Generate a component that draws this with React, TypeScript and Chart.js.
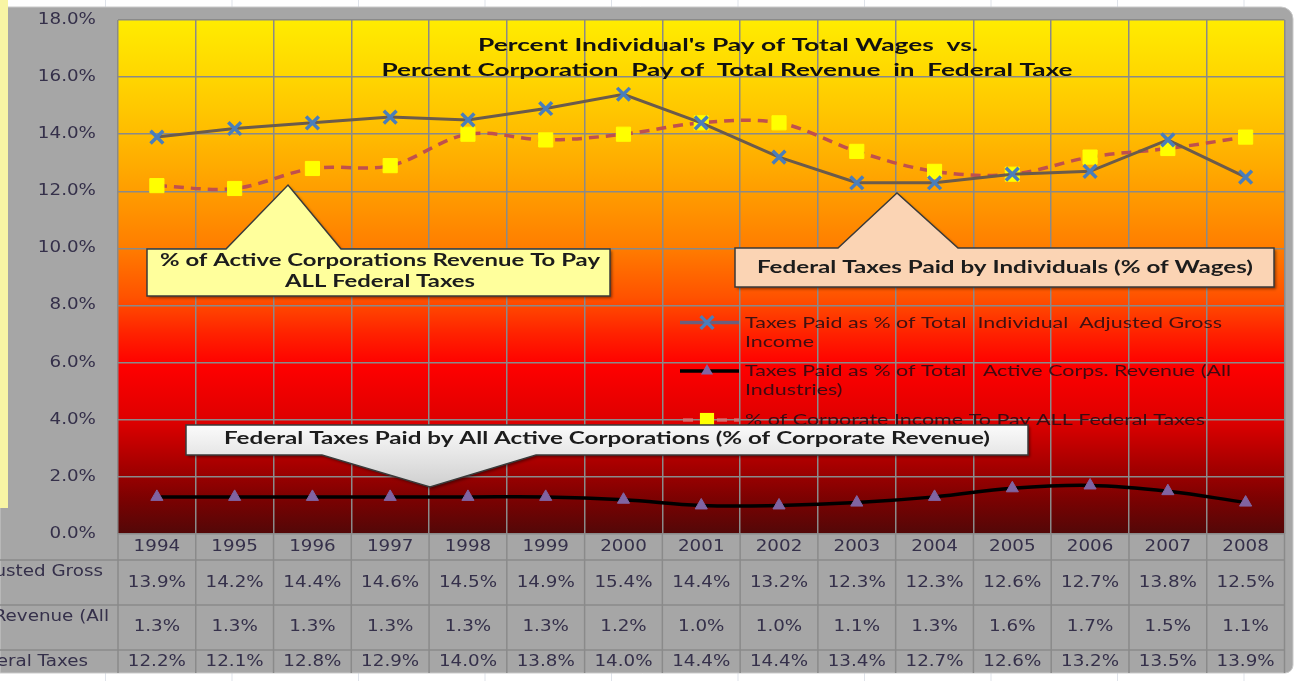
import { useEffect, useRef } from "react";
import { Chart, registerables } from "chart.js";

Chart.register(...registerables);

// ---------- DATA ----------
const years = ["1994", "1995", "1996", "1997", "1998", "1999", "2000", "2001", "2002", "2003", "2004", "2005", "2006", "2007", "2008"];
const individualPct = [13.9, 14.2, 14.4, 14.6, 14.5, 14.9, 15.4, 14.4, 13.2, 12.3, 12.3, 12.6, 12.7, 13.8, 12.5];
const corpRevenuePct = [1.3, 1.3, 1.3, 1.3, 1.3, 1.3, 1.2, 1.0, 1.0, 1.1, 1.3, 1.6, 1.7, 1.5, 1.1];
const corpIncomePct = [12.2, 12.1, 12.8, 12.9, 14.0, 13.8, 14.0, 14.4, 14.4, 13.4, 12.7, 12.6, 13.2, 13.5, 13.9];
const yTickValues = [0, 2, 4, 6, 8, 10, 12, 14, 16, 18];

const seriesLegendLines = [
  ["Taxes Paid as % of Total  Individual  Adjusted Gross", "Income"],
  ["Taxes Paid as % of Total   Active Corps. Revenue (All", "Industries)"],
  ["% of Corporate Income To Pay ALL Federal Taxes"],
];
const seriesLabels = [
  "Taxes Paid as % of Total  Individual  Adjusted Gross Income",
  "Taxes Paid as % of Total   Active Corps. Revenue (All Industries)",
  "% of Corporate Income To Pay ALL Federal Taxes",
];
const tableRowHeaders = [
  "Taxes Paid as % of Total  Individual  Adjusted Gross",
  "Taxes Paid as % of Total   Active Corps. Revenue (All",
  "% of Corporate Income To Pay ALL Federal Taxes",
];
const titleLines = [
  "Percent Individual's Pay of Total Wages  vs.",
  "Percent Corporation  Pay of  Total Revenue  in  Federal Taxe",
];
const calloutCorpIncome = ["% of Active Corporations Revenue To Pay", "ALL Federal Taxes"];
const calloutIndividuals = ["Federal Taxes Paid by Individuals (% of Wages)"];
const calloutCorpRevenue = ["Federal Taxes Paid by All Active Corporations (% of Corporate Revenue)"];

// ---------- HELPERS ----------
const AXIS_FONT = '15px "DejaVu Sans", Verdana, sans-serif';
const AXIS_SX = 1.22;
const AXIS_COLOR = "#35304a";
const BOLD_FONT = 'bold 16.5px Lato, "Open Sans", sans-serif';
const LEGEND_FONT = '16px Lato, "Open Sans", sans-serif';

function drawText(
  ctx: CanvasRenderingContext2D,
  text: string,
  x: number,
  y: number,
  font: string,
  color: string,
  align: CanvasTextAlign = "center",
  opts: { width?: number; sx?: number } = {}
): number {
  ctx.save();
  ctx.font = font;
  ctx.fillStyle = color;
  ctx.textBaseline = "middle";
  ctx.textAlign = align;
  const w = ctx.measureText(text).width;
  const s = opts.width ? opts.width / w : opts.sx ?? 1;
  ctx.translate(x, y);
  ctx.scale(s, 1);
  ctx.fillText(text, 0, 0);
  ctx.restore();
  return s;
}

function drawMarker(ctx: CanvasRenderingContext2D, style: string, x: number, y: number, r: number, fill: string, stroke: string, bw: number) {
  ctx.save();
  ctx.fillStyle = fill;
  ctx.strokeStyle = stroke;
  ctx.lineWidth = bw;
  ctx.beginPath();
  if (style === "crossRot") {
    const d = Math.SQRT1_2 * r;
    ctx.moveTo(x - d, y - d);
    ctx.lineTo(x + d, y + d);
    ctx.moveTo(x - d, y + d);
    ctx.lineTo(x + d, y - d);
    ctx.stroke();
  } else if (style === "triangle") {
    ctx.moveTo(x, y - r);
    ctx.lineTo(x + r * 0.866, y + r * 0.5);
    ctx.lineTo(x - r * 0.866, y + r * 0.5);
    ctx.closePath();
    ctx.fill();
  } else {
    const s = Math.SQRT1_2 * r;
    ctx.rect(x - s, y - s, 2 * s, 2 * s);
    ctx.fill();
  }
  ctx.restore();
}

type CalloutDef = {
  L: number; T: number; R: number; B: number;
  b1: number; b2: number; tx: number; ty: number;
  side: "top" | "bottom";
  fill: string | ((ctx: CanvasRenderingContext2D) => CanvasGradient);
  lines: string[];
  lineY: number[];
  lineW: number[];
  cx: number;
};

function drawCallout(ctx: CanvasRenderingContext2D, c: CalloutDef) {
  ctx.save();
  ctx.beginPath();
  if (c.side === "top") {
    ctx.moveTo(c.L, c.T);
    ctx.lineTo(c.b1, c.T);
    ctx.lineTo(c.tx, c.ty);
    ctx.lineTo(c.b2, c.T);
    ctx.lineTo(c.R, c.T);
    ctx.lineTo(c.R, c.B);
    ctx.lineTo(c.L, c.B);
  } else {
    ctx.moveTo(c.L, c.T);
    ctx.lineTo(c.R, c.T);
    ctx.lineTo(c.R, c.B);
    ctx.lineTo(c.b2, c.B);
    ctx.lineTo(c.tx, c.ty);
    ctx.lineTo(c.b1, c.B);
    ctx.lineTo(c.L, c.B);
  }
  ctx.closePath();
  ctx.shadowColor = "rgba(0,0,0,0.45)";
  ctx.shadowBlur = 3;
  ctx.shadowOffsetX = 2;
  ctx.shadowOffsetY = 2;
  ctx.fillStyle = typeof c.fill === "string" ? c.fill : c.fill(ctx);
  ctx.fill();
  ctx.shadowColor = "transparent";
  ctx.strokeStyle = "#3a3a3a";
  ctx.lineWidth = 1.5;
  ctx.stroke();
  ctx.restore();
  c.lines.forEach((t, i) =>
    drawText(ctx, t, c.cx, c.lineY[i], BOLD_FONT, "#1c1c1c", "center", { width: c.lineW[i] })
  );
}

// ---------- PLUGIN ----------
const decorPlugin = {
  id: "decor",
  beforeDraw(chart: any) {
    const ctx: CanvasRenderingContext2D = chart.ctx;
    const { left, right, top, bottom } = chart.chartArea;
    const W = chart.width;
    const H = chart.height;
    ctx.save();
    ctx.fillStyle = "#ffffff";
    ctx.fillRect(0, 0, W, H);
    ctx.strokeStyle = "#dfe3ea";
    ctx.lineWidth = 1;
    for (let x = 105; x < W; x += 126.5) {
      ctx.beginPath();
      ctx.moveTo(x + 0.5, 0);
      ctx.lineTo(x + 0.5, 7);
      ctx.moveTo(x + 0.5, 673);
      ctx.lineTo(x + 0.5, H);
      ctx.stroke();
    }
    ctx.fillStyle = "#a6a6a6";
    ctx.beginPath();
    (ctx as any).roundRect(0, 7, 1293, 666, [0, 12, 8, 0]);
    ctx.fill();
    ctx.strokeStyle = "#c9c9c9";
    ctx.lineWidth = 1;
    ctx.stroke();
    ctx.fillStyle = "#f8f5a4";
    ctx.fillRect(0, 0, 8, 508);
    const g = ctx.createLinearGradient(0, top, 0, bottom);
    g.addColorStop(0.0, "#ffec00");
    g.addColorStop(0.11, "#ffd600");
    g.addColorStop(0.22, "#ffbc00");
    g.addColorStop(0.33, "#ff9e00");
    g.addColorStop(0.44, "#ff7e00");
    g.addColorStop(0.54, "#ff5200");
    g.addColorStop(0.61, "#ff2200");
    g.addColorStop(0.67, "#ff0000");
    g.addColorStop(0.78, "#de0000");
    g.addColorStop(0.87, "#a40000");
    g.addColorStop(0.94, "#760202");
    g.addColorStop(1.0, "#520808");
    ctx.fillStyle = g;
    ctx.fillRect(left, top, right - left, bottom - top);
    ctx.restore();

    const ys = chart.scales.y;
    yTickValues.forEach((v) => {
      drawText(ctx, v.toFixed(1) + "%", 96, ys.getPixelForValue(v), AXIS_FONT, AXIS_COLOR, "right", { sx: AXIS_SX });
    });
  },
  afterDatasetsDraw(chart: any) {
    const ctx: CanvasRenderingContext2D = chart.ctx;
    drawText(ctx, titleLines[0], 728, 46, BOLD_FONT, "#111111", "center", { width: 500 });
    drawText(ctx, titleLines[1], 727, 70.5, BOLD_FONT, "#111111", "center", { width: 691 });

    const legendY = [322.5, 371, 420];
    const legendW = [477, 486, 460];
    const ds = chart.data.datasets;
    ds.forEach((d: any, i: number) => {
      const y = legendY[i];
      ctx.save();
      ctx.strokeStyle = i === 0 ? "#6a5f7e" : i === 1 ? "#000000" : "rgba(214,120,120,0.8)";
      ctx.lineWidth = 3.5;
      if (i === 2) ctx.setLineDash([10, 7]);
      ctx.beginPath();
      ctx.moveTo(i === 2 ? 683 : 680, y);
      ctx.lineTo(739, y);
      ctx.stroke();
      ctx.restore();
      drawMarker(ctx, d.pointStyle, 707, y, d.pointRadius, d.pointBackgroundColor, d.pointBorderColor, d.pointBorderWidth);
      let s = 1;
      seriesLegendLines[i].forEach((t, k) => {
        if (k === 0) {
          s = drawText(ctx, t, 745, y, LEGEND_FONT, "rgba(30,12,20,0.85)", "left", { width: legendW[i] });
        } else {
          drawText(ctx, t, 745, y + 19, LEGEND_FONT, "rgba(30,12,20,0.85)", "left", { sx: s });
        }
      });
    });
  },
  afterDraw(chart: any) {
    const ctx: CanvasRenderingContext2D = chart.ctx;
    const xs = chart.scales.x;
    const { left, right, bottom } = chart.chartArea;
    const step = xs.getPixelForValue(1) - xs.getPixelForValue(0);

    ctx.save();
    ctx.strokeStyle = "#8a8a8a";
    ctx.lineWidth = 1.5;
    for (let i = 0; i <= years.length; i++) {
      const x = xs.getPixelForValue(0) - step / 2 + i * step;
      ctx.beginPath();
      ctx.moveTo(x, bottom);
      ctx.lineTo(x, 673);
      ctx.stroke();
    }
    [560, 605, 650].forEach((y) => {
      ctx.beginPath();
      ctx.moveTo(0, y);
      ctx.lineTo(right, y);
      ctx.stroke();
    });
    ctx.restore();

    years.forEach((yr, i) => {
      drawText(ctx, yr, xs.getPixelForValue(i), 547.5, AXIS_FONT, AXIS_COLOR, "center", { sx: AXIS_SX });
    });
    const rows = [individualPct, corpRevenuePct, corpIncomePct];
    const rowY = [583, 627.5, 662.5];
    rows.forEach((vals, r) => {
      vals.forEach((v, i) => {
        drawText(ctx, v.toFixed(1) + "%", xs.getPixelForValue(i), rowY[r], AXIS_FONT, AXIS_COLOR, "center", { sx: AXIS_SX });
      });
    });
    const headerY = [572, 617, 662];
    const headerRight = [103, 109, 88];
    ctx.save();
    ctx.beginPath();
    ctx.rect(0, bottom, left - 1, 673 - bottom);
    ctx.clip();
    tableRowHeaders.forEach((t, r) => {
      drawText(ctx, t, headerRight[r], headerY[r], AXIS_FONT, AXIS_COLOR, "right", { sx: AXIS_SX });
    });
    ctx.restore();

    drawCallout(ctx, {
      L: 147, T: 249, R: 610, B: 296,
      b1: 226, b2: 341, tx: 288, ty: 185, side: "top",
      fill: "#ffff9c",
      lines: calloutCorpIncome, lineY: [260.5, 281.5], lineW: [440, 190], cx: 380,
    });
    drawCallout(ctx, {
      L: 735, T: 248, R: 1274, B: 287,
      b1: 838, b2: 958, tx: 897, ty: 193, side: "top",
      fill: "#fbd4b4",
      lines: calloutIndividuals, lineY: [268], lineW: [496], cx: 1005,
    });
    drawCallout(ctx, {
      L: 186, T: 425, R: 1028, B: 455,
      b1: 322, b2: 536, tx: 430, ty: 487, side: "bottom",
      fill: (c) => {
        const gg = c.createLinearGradient(0, 425, 0, 487);
        gg.addColorStop(0, "#fbfbfb");
        gg.addColorStop(1, "#cfcfcf");
        return gg;
      },
      lines: calloutCorpRevenue, lineY: [438.5], lineW: [766], cx: 607,
    });
  },
};

export default function App() {
  const ref = useRef<HTMLCanvasElement | null>(null);
  useEffect(() => {
    if (!ref.current) return;
    const chart = new Chart(ref.current, {
      type: "line",
      data: {
        labels: years,
        datasets: [
          {
            label: seriesLabels[0],
            data: individualPct,
            borderColor: "#6b5b4b",
            borderWidth: 3,
            tension: 0,
            pointStyle: "crossRot",
            pointRadius: 9,
            pointBorderColor: "#4a7ebb",
            pointBackgroundColor: "#4a7ebb",
            pointBorderWidth: 3.5,
          },
          {
            label: seriesLabels[1],
            data: corpRevenuePct,
            borderColor: "#000000",
            borderWidth: 3.5,
            tension: 0.4,
            pointStyle: "triangle",
            pointRadius: 7,
            pointBorderColor: "#8064a2",
            pointBackgroundColor: "#8064a2",
            pointBorderWidth: 1,
          },
          {
            label: seriesLabels[2],
            data: corpIncomePct,
            borderColor: "#c0504d",
            borderDash: [10, 7],
            borderWidth: 3.5,
            tension: 0.35,
            pointStyle: "rect",
            pointRadius: 10,
            pointBorderColor: "#ffff00",
            pointBackgroundColor: "#ffff00",
            pointBorderWidth: 1,
          },
        ],
      },
      options: {
        animation: false,
        responsive: false,
        maintainAspectRatio: false,
        devicePixelRatio: 1,
        layout: { padding: { left: 118, right: 5, top: 20, bottom: 147 } },
        plugins: {
          legend: { display: false },
          title: { display: false },
          tooltip: { enabled: false },
        },
        scales: {
          x: {
            type: "category",
            offset: true,
            grid: { offset: true, color: "#8a8a8a", lineWidth: 1.5, drawTicks: false },
            ticks: { display: false },
            border: { display: false },
          },
          y: {
            min: 0,
            max: 18,
            ticks: { display: false, stepSize: 2 },
            grid: { color: "#8a8a8a", lineWidth: 1.5, drawTicks: false },
            border: { display: false },
          },
        },
      },
      plugins: [decorPlugin],
    });
    return () => chart.destroy();
  }, []);
  return (
    <div style={{ position: "fixed", left: 0, top: 0, width: 1297, height: 681, background: "#fff" }}>
      <canvas ref={ref} width={1297} height={681} style={{ display: "block", width: 1297, height: 681 }} />
    </div>
  );
}
